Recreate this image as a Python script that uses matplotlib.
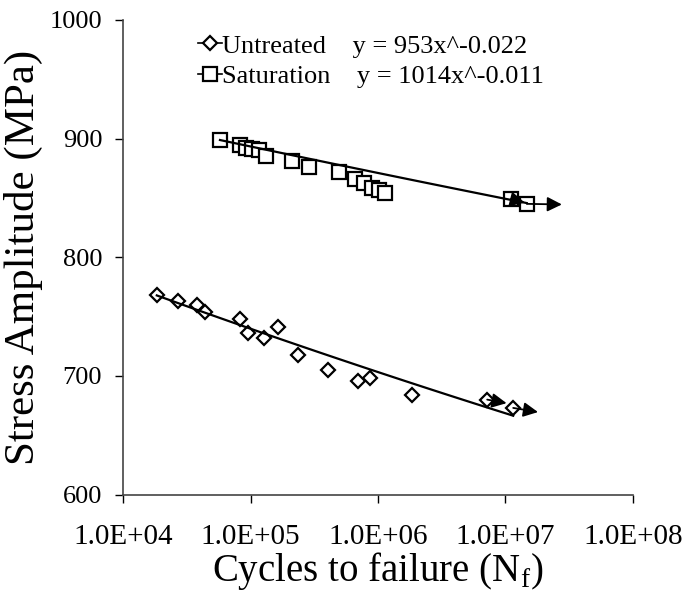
import matplotlib
matplotlib.use("Agg")
import matplotlib.pyplot as plt
from matplotlib.lines import Line2D
import numpy as np

plt.rcParams['font.family'] = ['Liberation Serif', 'DejaVu Serif']

# untreated specimens (diamonds)
untreated_n = [1.84e4, 2.72e4, 3.79e4, 4.39e4, 8.27e4, 9.62e4, 1.28e5, 1.63e5,
               2.34e5, 4.07e5, 6.93e5, 8.65e5, 1.84e6, 7.19e6, 1.15e7]
untreated_s = [768, 763, 760, 754, 748, 736, 732, 741,
               718, 705, 696, 698, 684, 680, 673]

# saturation specimens (squares)
sat_n = [5.76e4, 8.27e4, 9.23e4, 1.02e5, 1.17e5, 1.32e5, 2.11e5, 2.89e5,
         4.97e5, 6.60e5, 7.76e5, 8.92e5, 1.01e6, 1.13e6, 1.10e7, 1.47e7]
sat_s = [899, 895, 892, 891, 890, 885, 881, 876,
         872, 866, 863, 858, 857, 854, 849, 845]

# power law fits
untreated_fit = (953, -0.022)
sat_fit = (1014, -0.011)

# run-outs: (start x, start y, end x, end y)
runouts = [(7.19e6, 680, 1.02e7, 677), (1.15e7, 673, 1.80e7, 669.5),
           (1.10e7, 849, 1.42e7, 846), (1.47e7, 845, 2.77e7, 844.5)]

xticks = [1e4, 1e5, 1e6, 1e7, 1e8]
xlabels = ['1.0E+04', '1.0E+05', '1.0E+06', '1.0E+07', '1.0E+08']
yticks = [600, 700, 800, 900, 1000]

fig = plt.figure(figsize=(6.85, 6.0), dpi=100)
ax = fig.add_axes([0.1796, 0.1758, 0.7444, 0.7909])

ax.plot(untreated_n, untreated_s, linestyle='none', marker='D', ms=7,
        mfc='white', mec='black', mew=1.6)
ax.plot(sat_n, sat_s, linestyle='none', marker='s', ms=10,
        mfc='white', mec='black', mew=1.6)

for xs, (a, b) in [(untreated_n, untreated_fit), (sat_n, sat_fit)]:
    xx = np.logspace(np.log10(min(xs)), np.log10(max(xs)), 50)
    ax.plot(xx, a * xx ** b, color='black', lw=1.6)

for x0, y0, x1, y1 in runouts:
    ax.annotate('', xy=(x1, y1), xytext=(x0, y0),
                arrowprops=dict(arrowstyle='-|>', color='black', lw=1.3,
                                mutation_scale=22, shrinkA=0, shrinkB=0))

ax.set_xscale('log')
ax.set_xlim(1e4, 1e8)
ax.set_ylim(600, 1000)
ax.set_xticks(xticks)
ax.set_xticklabels(xlabels)
ax.set_yticks(yticks)
ax.minorticks_off()
ax.tick_params(length=6, width=1, colors='black')
ax.tick_params(axis='x', labelsize=21, pad=15)
ax.tick_params(axis='y', labelsize=19, pad=9)
for s in ['top', 'right']:
    ax.spines[s].set_visible(False)
for s in ['left', 'bottom']:
    ax.spines[s].set_color('#444444')
    ax.spines[s].set_linewidth(1.2)

ax.set_xlabel('Cycles to failure (N$_\\mathregular{f}$)', fontsize=28, labelpad=0)
ax.set_ylabel('Stress Amplitude (MPa)', fontsize=31, labelpad=5)

handles = [Line2D([], [], color='black', lw=1.2, marker='D', ms=7,
                  mfc='white', mec='black', mew=1.6),
           Line2D([], [], color='black', lw=1.2, marker='s', ms=10,
                  mfc='white', mec='black', mew=1.6)]
labels = ['Untreated    y = 953x^-0.022', 'Saturation    y = 1014x^-0.011']
ax.legend(handles, labels, loc='upper left', bbox_to_anchor=(0.1, 1.02),
          frameon=False, fontsize=19, handlelength=0.9, handletextpad=0.0,
          labelspacing=0.25)

fig.savefig('out.png', dpi=100)
